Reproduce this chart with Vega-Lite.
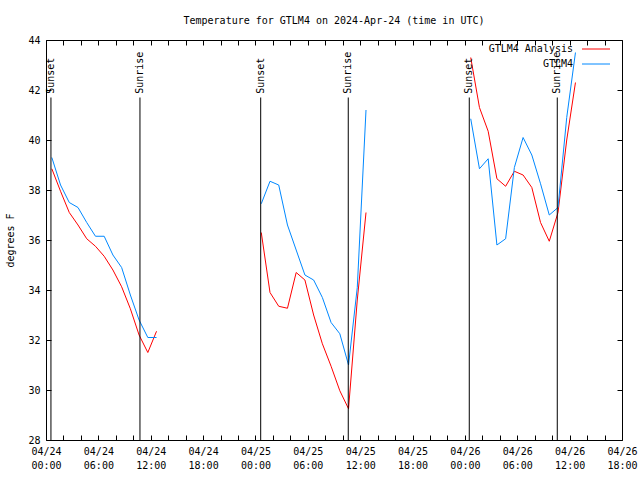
{
  "$schema": "https://vega.github.io/schema/vega-lite/v6.json",
  "width": 576,
  "height": 400,
  "autosize": {"type": "none"},
  "padding": {"left": 46, "top": 40, "right": 18, "bottom": 40},
  "background": "white",
  "title": {"text": "Temperature for GTLM4 on 2024-Apr-24 (time in UTC)", "font": "DejaVu Sans Mono", "fontSize": 10, "fontWeight": "normal", "color": "black", "offset": 9},
  "config": {
    "view": {"stroke": "black", "strokeWidth": 1},
    "axis": {"labelFont": "DejaVu Sans Mono", "labelFontSize": 10, "labelColor": "black", "titleFont": "DejaVu Sans Mono", "titleFontSize": 10, "titleFontWeight": "normal", "titleColor": "black", "domain": false, "grid": false, "tickColor": "black", "tickSize": -5, "tickWidth": 1, "labelOverlap": false, "labelFlush": false, "labelBound": false}
  },
  "datasets": {
    "temps": [
      {"series": "GTLM4 Analysis", "seg": 1, "time": "2024-04-24T00:40:00Z", "temp": 38.85},
      {"series": "GTLM4 Analysis", "seg": 1, "time": "2024-04-24T01:40:00Z", "temp": 37.95},
      {"series": "GTLM4 Analysis", "seg": 1, "time": "2024-04-24T02:40:00Z", "temp": 37.1},
      {"series": "GTLM4 Analysis", "seg": 1, "time": "2024-04-24T03:40:00Z", "temp": 36.6},
      {"series": "GTLM4 Analysis", "seg": 1, "time": "2024-04-24T04:40:00Z", "temp": 36.05},
      {"series": "GTLM4 Analysis", "seg": 1, "time": "2024-04-24T05:40:00Z", "temp": 35.75},
      {"series": "GTLM4 Analysis", "seg": 1, "time": "2024-04-24T06:40:00Z", "temp": 35.35},
      {"series": "GTLM4 Analysis", "seg": 1, "time": "2024-04-24T07:40:00Z", "temp": 34.8},
      {"series": "GTLM4 Analysis", "seg": 1, "time": "2024-04-24T08:40:00Z", "temp": 34.13},
      {"series": "GTLM4 Analysis", "seg": 1, "time": "2024-04-24T09:40:00Z", "temp": 33.25},
      {"series": "GTLM4 Analysis", "seg": 1, "time": "2024-04-24T10:40:00Z", "temp": 32.2},
      {"series": "GTLM4 Analysis", "seg": 1, "time": "2024-04-24T11:40:00Z", "temp": 31.5},
      {"series": "GTLM4 Analysis", "seg": 1, "time": "2024-04-24T12:40:00Z", "temp": 32.35},
      {"series": "GTLM4 Analysis", "seg": 2, "time": "2024-04-25T00:40:00Z", "temp": 36.3},
      {"series": "GTLM4 Analysis", "seg": 2, "time": "2024-04-25T01:40:00Z", "temp": 33.9},
      {"series": "GTLM4 Analysis", "seg": 2, "time": "2024-04-25T02:40:00Z", "temp": 33.35},
      {"series": "GTLM4 Analysis", "seg": 2, "time": "2024-04-25T03:40:00Z", "temp": 33.27},
      {"series": "GTLM4 Analysis", "seg": 2, "time": "2024-04-25T04:40:00Z", "temp": 34.7},
      {"series": "GTLM4 Analysis", "seg": 2, "time": "2024-04-25T05:40:00Z", "temp": 34.4},
      {"series": "GTLM4 Analysis", "seg": 2, "time": "2024-04-25T06:40:00Z", "temp": 33.0},
      {"series": "GTLM4 Analysis", "seg": 2, "time": "2024-04-25T07:40:00Z", "temp": 31.85},
      {"series": "GTLM4 Analysis", "seg": 2, "time": "2024-04-25T08:40:00Z", "temp": 30.95},
      {"series": "GTLM4 Analysis", "seg": 2, "time": "2024-04-25T09:40:00Z", "temp": 29.97},
      {"series": "GTLM4 Analysis", "seg": 2, "time": "2024-04-25T10:40:00Z", "temp": 29.25},
      {"series": "GTLM4 Analysis", "seg": 2, "time": "2024-04-25T11:40:00Z", "temp": 33.6},
      {"series": "GTLM4 Analysis", "seg": 2, "time": "2024-04-25T12:40:00Z", "temp": 37.1},
      {"series": "GTLM4 Analysis", "seg": 3, "time": "2024-04-26T00:40:00Z", "temp": 43.3},
      {"series": "GTLM4 Analysis", "seg": 3, "time": "2024-04-26T01:40:00Z", "temp": 41.3},
      {"series": "GTLM4 Analysis", "seg": 3, "time": "2024-04-26T02:40:00Z", "temp": 40.35},
      {"series": "GTLM4 Analysis", "seg": 3, "time": "2024-04-26T03:40:00Z", "temp": 38.45},
      {"series": "GTLM4 Analysis", "seg": 3, "time": "2024-04-26T04:40:00Z", "temp": 38.15},
      {"series": "GTLM4 Analysis", "seg": 3, "time": "2024-04-26T05:40:00Z", "temp": 38.75},
      {"series": "GTLM4 Analysis", "seg": 3, "time": "2024-04-26T06:40:00Z", "temp": 38.6},
      {"series": "GTLM4 Analysis", "seg": 3, "time": "2024-04-26T07:40:00Z", "temp": 38.1},
      {"series": "GTLM4 Analysis", "seg": 3, "time": "2024-04-26T08:40:00Z", "temp": 36.7},
      {"series": "GTLM4 Analysis", "seg": 3, "time": "2024-04-26T09:40:00Z", "temp": 35.95},
      {"series": "GTLM4 Analysis", "seg": 3, "time": "2024-04-26T10:40:00Z", "temp": 37.1},
      {"series": "GTLM4 Analysis", "seg": 3, "time": "2024-04-26T11:40:00Z", "temp": 40.0},
      {"series": "GTLM4 Analysis", "seg": 3, "time": "2024-04-26T12:40:00Z", "temp": 42.3},
      {"series": "GTLM4", "seg": 1, "time": "2024-04-24T00:40:00Z", "temp": 39.3},
      {"series": "GTLM4", "seg": 1, "time": "2024-04-24T01:40:00Z", "temp": 38.2},
      {"series": "GTLM4", "seg": 1, "time": "2024-04-24T02:40:00Z", "temp": 37.5},
      {"series": "GTLM4", "seg": 1, "time": "2024-04-24T03:40:00Z", "temp": 37.3},
      {"series": "GTLM4", "seg": 1, "time": "2024-04-24T04:40:00Z", "temp": 36.7},
      {"series": "GTLM4", "seg": 1, "time": "2024-04-24T05:40:00Z", "temp": 36.15},
      {"series": "GTLM4", "seg": 1, "time": "2024-04-24T06:40:00Z", "temp": 36.15},
      {"series": "GTLM4", "seg": 1, "time": "2024-04-24T07:40:00Z", "temp": 35.4},
      {"series": "GTLM4", "seg": 1, "time": "2024-04-24T08:40:00Z", "temp": 34.9},
      {"series": "GTLM4", "seg": 1, "time": "2024-04-24T09:40:00Z", "temp": 33.8},
      {"series": "GTLM4", "seg": 1, "time": "2024-04-24T10:40:00Z", "temp": 32.8},
      {"series": "GTLM4", "seg": 1, "time": "2024-04-24T11:40:00Z", "temp": 32.1},
      {"series": "GTLM4", "seg": 1, "time": "2024-04-24T12:40:00Z", "temp": 32.1},
      {"series": "GTLM4", "seg": 2, "time": "2024-04-25T00:40:00Z", "temp": 37.45},
      {"series": "GTLM4", "seg": 2, "time": "2024-04-25T01:40:00Z", "temp": 38.35},
      {"series": "GTLM4", "seg": 2, "time": "2024-04-25T02:40:00Z", "temp": 38.2},
      {"series": "GTLM4", "seg": 2, "time": "2024-04-25T03:40:00Z", "temp": 36.6},
      {"series": "GTLM4", "seg": 2, "time": "2024-04-25T04:40:00Z", "temp": 35.6},
      {"series": "GTLM4", "seg": 2, "time": "2024-04-25T05:40:00Z", "temp": 34.6},
      {"series": "GTLM4", "seg": 2, "time": "2024-04-25T06:40:00Z", "temp": 34.4},
      {"series": "GTLM4", "seg": 2, "time": "2024-04-25T07:40:00Z", "temp": 33.7},
      {"series": "GTLM4", "seg": 2, "time": "2024-04-25T08:40:00Z", "temp": 32.7},
      {"series": "GTLM4", "seg": 2, "time": "2024-04-25T09:40:00Z", "temp": 32.25},
      {"series": "GTLM4", "seg": 2, "time": "2024-04-25T10:40:00Z", "temp": 31.0},
      {"series": "GTLM4", "seg": 2, "time": "2024-04-25T11:40:00Z", "temp": 34.1},
      {"series": "GTLM4", "seg": 2, "time": "2024-04-25T12:40:00Z", "temp": 41.2},
      {"series": "GTLM4", "seg": 3, "time": "2024-04-26T00:40:00Z", "temp": 40.85},
      {"series": "GTLM4", "seg": 3, "time": "2024-04-26T01:40:00Z", "temp": 38.85},
      {"series": "GTLM4", "seg": 3, "time": "2024-04-26T02:40:00Z", "temp": 39.25},
      {"series": "GTLM4", "seg": 3, "time": "2024-04-26T03:40:00Z", "temp": 35.8},
      {"series": "GTLM4", "seg": 3, "time": "2024-04-26T04:40:00Z", "temp": 36.05},
      {"series": "GTLM4", "seg": 3, "time": "2024-04-26T05:40:00Z", "temp": 38.9},
      {"series": "GTLM4", "seg": 3, "time": "2024-04-26T06:40:00Z", "temp": 40.1},
      {"series": "GTLM4", "seg": 3, "time": "2024-04-26T07:40:00Z", "temp": 39.4},
      {"series": "GTLM4", "seg": 3, "time": "2024-04-26T08:40:00Z", "temp": 38.25},
      {"series": "GTLM4", "seg": 3, "time": "2024-04-26T09:40:00Z", "temp": 37.0},
      {"series": "GTLM4", "seg": 3, "time": "2024-04-26T10:40:00Z", "temp": 37.3},
      {"series": "GTLM4", "seg": 3, "time": "2024-04-26T11:40:00Z", "temp": 40.9},
      {"series": "GTLM4", "seg": 3, "time": "2024-04-26T12:40:00Z", "temp": 43.5}
    ],
    "sun": [
      {"event": "Sunset", "time": "2024-04-24T00:34:00Z"},
      {"event": "Sunrise", "time": "2024-04-24T10:46:00Z"},
      {"event": "Sunset", "time": "2024-04-25T00:36:00Z"},
      {"event": "Sunrise", "time": "2024-04-25T10:38:00Z"},
      {"event": "Sunset", "time": "2024-04-26T00:30:00Z"},
      {"event": "Sunrise", "time": "2024-04-26T10:35:00Z"}
    ]
  },
  "layer": [
    {
      "data": {"name": "temps"},
      "mark": {"type": "line", "strokeWidth": 1},
      "encoding": {
        "x": {"field": "time", "type": "temporal",
          "scale": {"type": "utc", "domain": [{"year": 2024, "month": 4, "date": 24, "hours": 0, "utc": true}, {"year": 2024, "month": 4, "date": 26, "hours": 18, "utc": true}], "nice": false},
          "axis": {"orient": "bottom", "title": null, "labelPadding": 11, "labelLineHeight": 14, "labelBaseline": "top",
            "values": [
              {"year": 2024, "month": 4, "date": 24, "hours": 0, "utc": true}, {"year": 2024, "month": 4, "date": 24, "hours": 2, "utc": true}, {"year": 2024, "month": 4, "date": 24, "hours": 4, "utc": true}, {"year": 2024, "month": 4, "date": 24, "hours": 6, "utc": true}, {"year": 2024, "month": 4, "date": 24, "hours": 8, "utc": true}, {"year": 2024, "month": 4, "date": 24, "hours": 10, "utc": true}, {"year": 2024, "month": 4, "date": 24, "hours": 12, "utc": true}, {"year": 2024, "month": 4, "date": 24, "hours": 14, "utc": true}, {"year": 2024, "month": 4, "date": 24, "hours": 16, "utc": true}, {"year": 2024, "month": 4, "date": 24, "hours": 18, "utc": true}, {"year": 2024, "month": 4, "date": 24, "hours": 20, "utc": true}, {"year": 2024, "month": 4, "date": 24, "hours": 22, "utc": true},
              {"year": 2024, "month": 4, "date": 25, "hours": 0, "utc": true}, {"year": 2024, "month": 4, "date": 25, "hours": 2, "utc": true}, {"year": 2024, "month": 4, "date": 25, "hours": 4, "utc": true}, {"year": 2024, "month": 4, "date": 25, "hours": 6, "utc": true}, {"year": 2024, "month": 4, "date": 25, "hours": 8, "utc": true}, {"year": 2024, "month": 4, "date": 25, "hours": 10, "utc": true}, {"year": 2024, "month": 4, "date": 25, "hours": 12, "utc": true}, {"year": 2024, "month": 4, "date": 25, "hours": 14, "utc": true}, {"year": 2024, "month": 4, "date": 25, "hours": 16, "utc": true}, {"year": 2024, "month": 4, "date": 25, "hours": 18, "utc": true}, {"year": 2024, "month": 4, "date": 25, "hours": 20, "utc": true}, {"year": 2024, "month": 4, "date": 25, "hours": 22, "utc": true},
              {"year": 2024, "month": 4, "date": 26, "hours": 0, "utc": true}, {"year": 2024, "month": 4, "date": 26, "hours": 2, "utc": true}, {"year": 2024, "month": 4, "date": 26, "hours": 4, "utc": true}, {"year": 2024, "month": 4, "date": 26, "hours": 6, "utc": true}, {"year": 2024, "month": 4, "date": 26, "hours": 8, "utc": true}, {"year": 2024, "month": 4, "date": 26, "hours": 10, "utc": true}, {"year": 2024, "month": 4, "date": 26, "hours": 12, "utc": true}, {"year": 2024, "month": 4, "date": 26, "hours": 14, "utc": true}, {"year": 2024, "month": 4, "date": 26, "hours": 16, "utc": true}, {"year": 2024, "month": 4, "date": 26, "hours": 18, "utc": true}
            ],
            "labelExpr": "utchours(datum.value) % 6 == 0 ? [utcFormat(datum.value, '%m/%d'), utcFormat(datum.value, '%H:%M')] : ''"}},
        "y": {"field": "temp", "type": "quantitative",
          "scale": {"domain": [28, 44], "nice": false, "zero": false},
          "axis": {"orient": "left", "title": "degrees F", "values": [28, 30, 32, 34, 36, 38, 40, 42, 44], "labelPadding": 11, "titleX": -36, "titleY": 200, "titleAngle": 270, "titleAlign": "center", "titleBaseline": "middle"}},
        "color": {"field": "series", "type": "nominal",
          "scale": {"domain": ["GTLM4 Analysis", "GTLM4"], "range": ["#ff0000", "#0088ff"]},
          "legend": {"title": null, "orient": "none", "legendX": 545, "legendY": 4, "padding": 0, "symbolType": "M-3.5,0H3.5", "symbolSize": 64, "symbolStrokeWidth": 1, "symbolFillColor": "transparent", "labelFont": "DejaVu Sans Mono", "labelFontSize": 10, "labelColor": "black", "labelAlign": "right", "labelOffset": -28, "rowPadding": 5}},
        "detail": {"field": "seg"}
      }
    },
    {
      "data": {"name": "sun"},
      "mark": {"type": "rule", "color": "black", "strokeWidth": 1},
      "encoding": {
        "x": {"field": "time", "type": "temporal",
          "axis": {"orient": "top", "title": null, "labels": false,
            "values": [
              {"year": 2024, "month": 4, "date": 24, "hours": 0, "utc": true}, {"year": 2024, "month": 4, "date": 24, "hours": 2, "utc": true}, {"year": 2024, "month": 4, "date": 24, "hours": 4, "utc": true}, {"year": 2024, "month": 4, "date": 24, "hours": 6, "utc": true}, {"year": 2024, "month": 4, "date": 24, "hours": 8, "utc": true}, {"year": 2024, "month": 4, "date": 24, "hours": 10, "utc": true}, {"year": 2024, "month": 4, "date": 24, "hours": 12, "utc": true}, {"year": 2024, "month": 4, "date": 24, "hours": 14, "utc": true}, {"year": 2024, "month": 4, "date": 24, "hours": 16, "utc": true}, {"year": 2024, "month": 4, "date": 24, "hours": 18, "utc": true}, {"year": 2024, "month": 4, "date": 24, "hours": 20, "utc": true}, {"year": 2024, "month": 4, "date": 24, "hours": 22, "utc": true},
              {"year": 2024, "month": 4, "date": 25, "hours": 0, "utc": true}, {"year": 2024, "month": 4, "date": 25, "hours": 2, "utc": true}, {"year": 2024, "month": 4, "date": 25, "hours": 4, "utc": true}, {"year": 2024, "month": 4, "date": 25, "hours": 6, "utc": true}, {"year": 2024, "month": 4, "date": 25, "hours": 8, "utc": true}, {"year": 2024, "month": 4, "date": 25, "hours": 10, "utc": true}, {"year": 2024, "month": 4, "date": 25, "hours": 12, "utc": true}, {"year": 2024, "month": 4, "date": 25, "hours": 14, "utc": true}, {"year": 2024, "month": 4, "date": 25, "hours": 16, "utc": true}, {"year": 2024, "month": 4, "date": 25, "hours": 18, "utc": true}, {"year": 2024, "month": 4, "date": 25, "hours": 20, "utc": true}, {"year": 2024, "month": 4, "date": 25, "hours": 22, "utc": true},
              {"year": 2024, "month": 4, "date": 26, "hours": 0, "utc": true}, {"year": 2024, "month": 4, "date": 26, "hours": 2, "utc": true}, {"year": 2024, "month": 4, "date": 26, "hours": 4, "utc": true}, {"year": 2024, "month": 4, "date": 26, "hours": 6, "utc": true}, {"year": 2024, "month": 4, "date": 26, "hours": 8, "utc": true}, {"year": 2024, "month": 4, "date": 26, "hours": 10, "utc": true}, {"year": 2024, "month": 4, "date": 26, "hours": 12, "utc": true}, {"year": 2024, "month": 4, "date": 26, "hours": 14, "utc": true}, {"year": 2024, "month": 4, "date": 26, "hours": 16, "utc": true}, {"year": 2024, "month": 4, "date": 26, "hours": 18, "utc": true}
            ]}},
        "y": {"datum": 41.7, "type": "quantitative",
          "axis": {"orient": "right", "title": null, "labels": false, "values": [28, 30, 32, 34, 36, 38, 40, 42, 44]}},
        "y2": {"datum": 28}
      }
    },
    {
      "data": {"name": "sun"},
      "mark": {"type": "text", "angle": 270, "align": "left", "baseline": "middle", "font": "DejaVu Sans Mono", "fontSize": 10, "color": "black"},
      "encoding": {
        "x": {"field": "time", "type": "temporal", "axis": null},
        "y": {"datum": 41.85, "type": "quantitative", "axis": null},
        "text": {"field": "event"}
      }
    }
  ],
  "resolve": {"axis": {"x": "independent", "y": "independent"}}
}
